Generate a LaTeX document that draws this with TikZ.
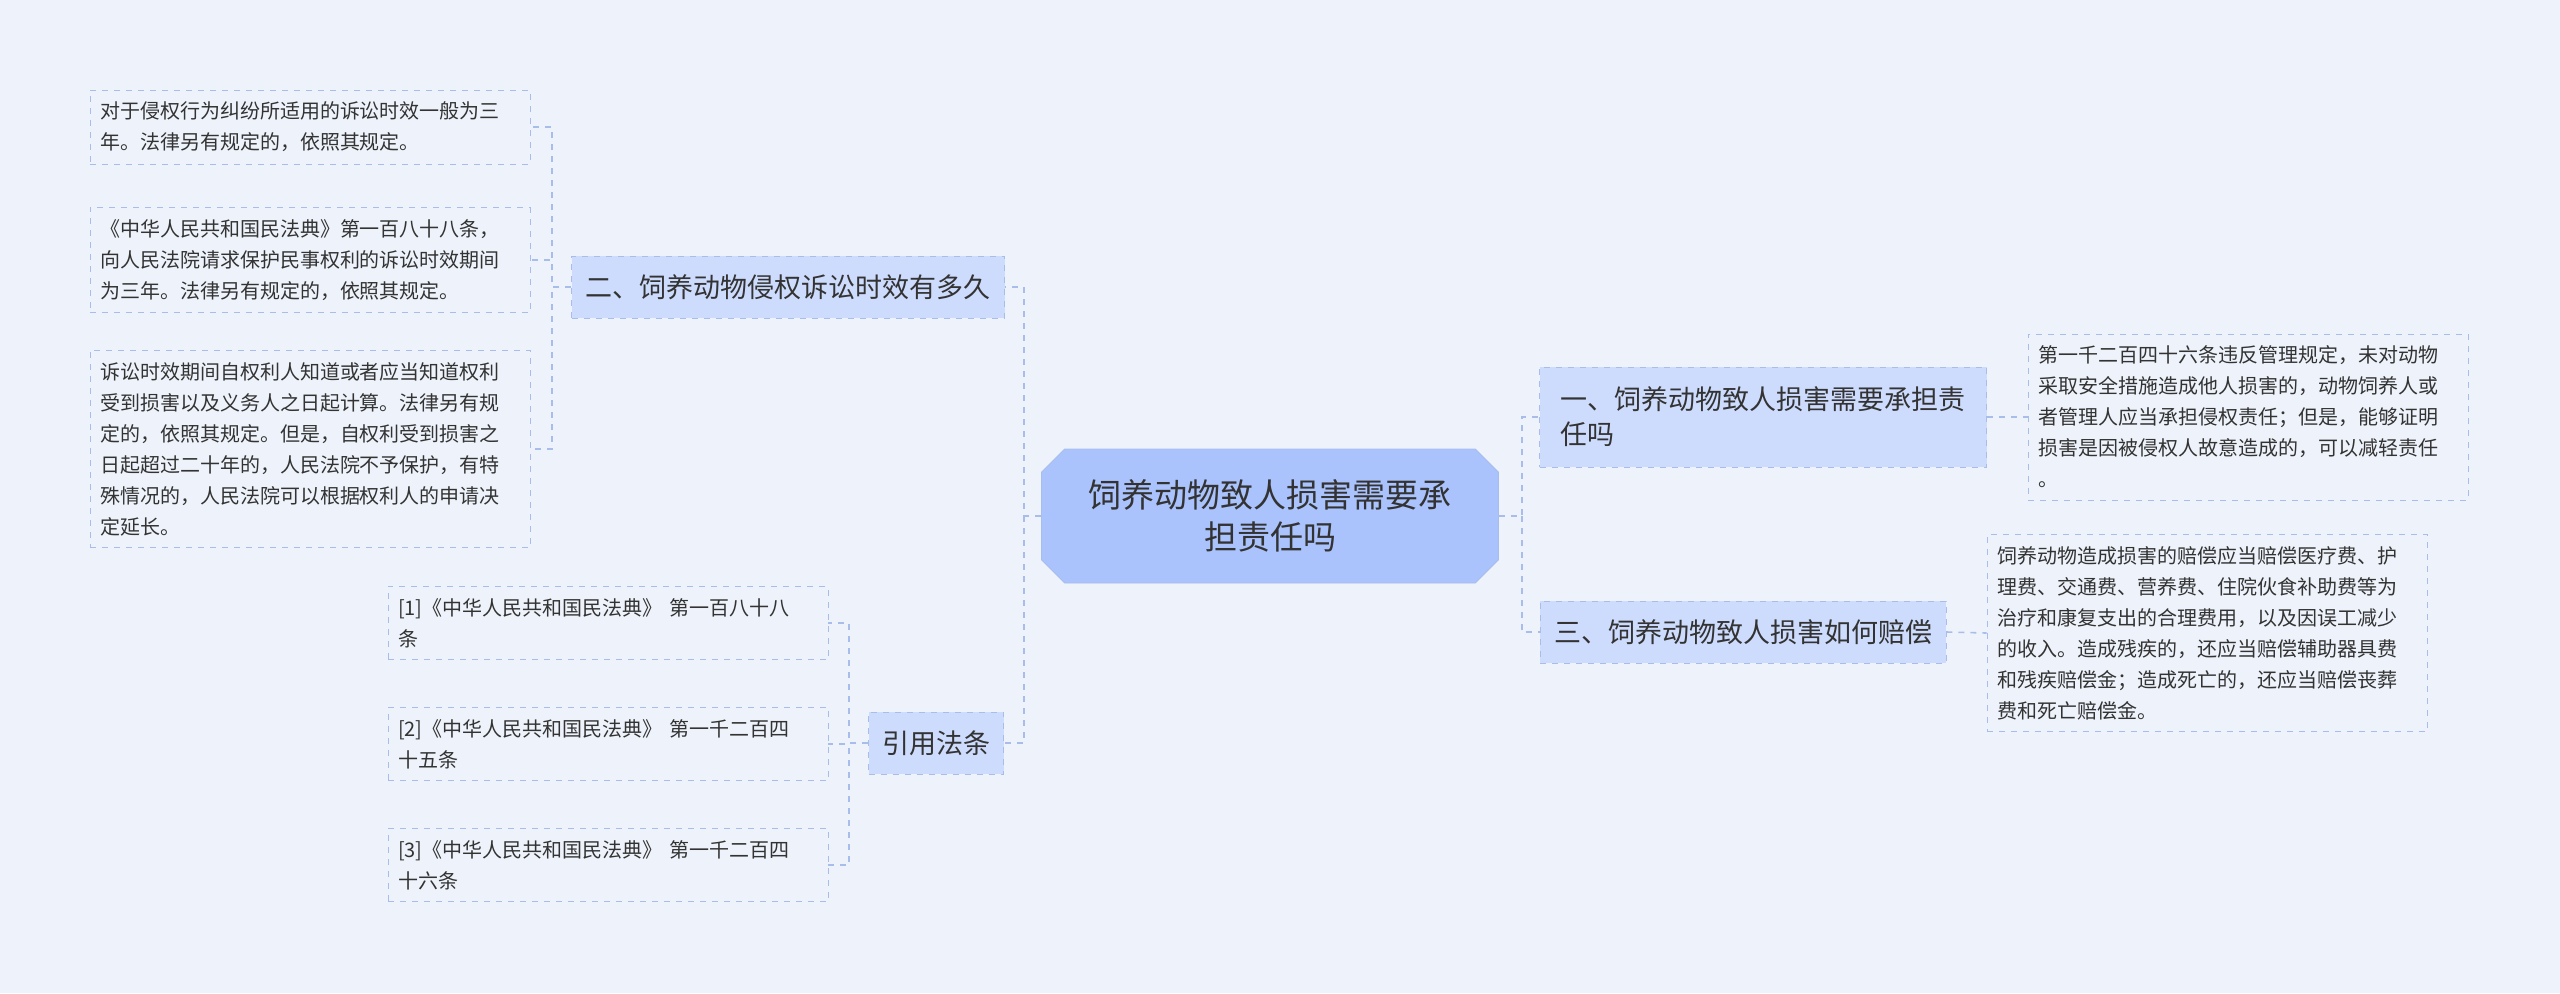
\documentclass[tikz,border=0pt]{standalone}
\usepackage{fontspec}
\setmainfont{Noto Sans CJK SC}
\usetikzlibrary{shapes.misc}
\definecolor{bgcol}{HTML}{EEF3FB}
\definecolor{rootcol}{HTML}{AAC3FC}
\definecolor{topiccol}{HTML}{CDDCFD}
\definecolor{linecol}{HTML}{A9BDEB}
\definecolor{txtcol}{HTML}{333333}
\begin{document}
\begin{tikzpicture}[
    x=0.5pt, y=-0.5pt,
    root/.style={
        chamfered rectangle, chamfered rectangle xsep=8pt,
        fill=rootcol, draw=linecol,
        minimum width=228.5pt, minimum height=67pt,
        align=center, text=txtcol,
        font=\fontsize{16.5}{21}\selectfont
    },
    topic/.style={
        rectangle, fill=topiccol, draw=linecol, dashed,
        inner xsep=5pt, align=left, text=txtcol,
        font=\fontsize{13.5}{17.5}\selectfont
    },
    leaf/.style={
        rectangle, draw=linecol, dashed, fill=bgcol,
        text width=#1, inner xsep=5pt, inner ysep=6pt,
        align=left, text=txtcol,
        font=\fontsize{10}{15.5}\selectfont
    },
    leaf/.default=210pt,
    link/.style={draw=linecol, dashed, line width=0.8pt}
]
\fill[bgcol] (0,0) rectangle (2560,993);

% --- Trung tâm ---
\node[root] (root) at (1270,516) {饲养动物致人损害需要承\\担责任吗};

% --- Nhánh trái ---
\node[topic, minimum width=216.5pt, minimum height=31pt] (time) at (788,287) {二、饲养动物侵权诉讼时效有多久};
\node[topic, minimum width=67.5pt, minimum height=31pt] (law) at (936,743) {引用法条};

\node[leaf] (t1) at (310,127) {对于侵权行为纠纷所适用的诉讼时效一般为三\\年。法律另有规定的，依照其规定。};
\node[leaf] (t2) at (310,260) {《中华人民共和国民法典》第一百八十八条，\\向人民法院请求保护民事权利的诉讼时效期间\\为三年。法律另有规定的，依照其规定。};
\node[leaf] (t3) at (310,449) {诉讼时效期间自权利人知道或者应当知道权利\\受到损害以及义务人之日起计算。法律另有规\\定的，依照其规定。但是，自权利受到损害之\\日起超过二十年的，人民法院不予保护，有特\\殊情况的，人民法院可以根据权利人的申请决\\定延长。};

\node[leaf] (r1) at (608,623) {[1]《中华人民共和国民法典》 第一百八十八\\条};
\node[leaf] (r2) at (608,744) {[2]《中华人民共和国民法典》 第一千二百四\\十五条};
\node[leaf] (r3) at (608,865) {[3]《中华人民共和国民法典》 第一千二百四\\十六条};

% --- Nhánh phải ---
\node[topic, minimum width=223.5pt, minimum height=50pt] (duty) at (1763,417) {一、饲养动物致人损害需要承担责\\任吗};
\node[topic, minimum width=203pt, minimum height=31pt] (comp) at (1743,632) {三、饲养动物致人损害如何赔偿};

\node[leaf] (d1) at (2248,417) {第一千二百四十六条违反管理规定，未对动物\\采取安全措施造成他人损害的，动物饲养人或\\者管理人应当承担侵权责任；但是，能够证明\\损害是因被侵权人故意造成的，可以减轻责任\\。};
\node[leaf] (c1) at (2207,633) {饲养动物造成损害的赔偿应当赔偿医疗费、护\\理费、交通费、营养费、住院伙食补助费等为\\治疗和康复支出的合理费用，以及因误工减少\\的收入。造成残疾的，还应当赔偿辅助器具费\\和残疾赔偿金；造成死亡的，还应当赔偿丧葬\\费和死亡赔偿金。};

% --- Đường nối ---
\draw[link] (root.west) -- ++(-17,0) |- (time.east);
\draw[link] (root.west) ++(-17,0) |- (law.east);
\draw[link] (root.east) -- ++(23,0) |- (duty.west);
\draw[link] (root.east) ++(23,0) |- (comp.west);
\foreach \n in {t1,t2,t3}
    \draw[link] (time.west) -- ++(-19,0) |- (\n.east);
\foreach \n in {r1,r2,r3}
    \draw[link] (law.west) -- ++(-19,0) |- (\n.east);
\draw[link] (duty.east) -- (d1.west);
\draw[link] (comp.east) -- (c1.west);
\end{tikzpicture}
\end{document}
